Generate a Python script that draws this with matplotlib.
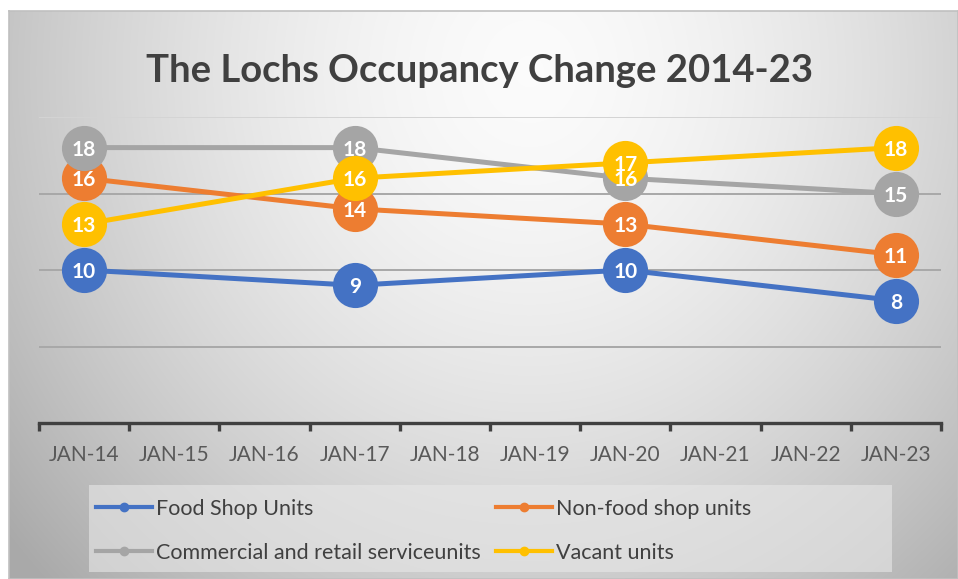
import numpy as np
import matplotlib.pyplot as plt
from matplotlib.lines import Line2D
from matplotlib.patches import Rectangle

plt.rcParams['font.family'] = ['Lato', 'DejaVu Sans']

# data
categories = ['JAN-14', 'JAN-15', 'JAN-16', 'JAN-17', 'JAN-18',
              'JAN-19', 'JAN-20', 'JAN-21', 'JAN-22', 'JAN-23']
data_pos = [0, 3, 6, 9]
food = [10, 9, 10, 8]
non_food = [16, 14, 13, 11]
commercial = [18, 18, 16, 15]
vacant = [13, 16, 17, 18]

series = [
    ('Food Shop Units', food, '#4472C4'),
    ('Non-food shop units', non_food, '#ED7D31'),
    ('Commercial and retail serviceunits', commercial, '#A5A5A5'),
    ('Vacant units', vacant, '#FFC000'),
]

W, H = 958, 579
fig = plt.figure(figsize=(W / 100, H / 100), dpi=100)
fig.patch.set_facecolor('white')

# chart area with radial grey gradient
cx0, cy0, cx1, cy1 = 9, 11, 958, 579
bg = fig.add_axes([cx0 / W, 1 - cy1 / H, (cx1 - cx0) / W, (cy1 - cy0) / H])
gw, gh = cx1 - cx0, cy1 - cy0
xx, yy = np.meshgrid(np.arange(gw), np.arange(gh))
d = np.sqrt(((xx - 520) / 520.0) ** 2 + ((yy - 60) / 560.0) ** 2)
v = 0.985 - 0.21 * np.clip(d, 0, 1.3) ** 1.6
img = np.dstack([v, v, v])
bg.imshow(img, aspect='auto', extent=(0, gw, gh, 0), interpolation='bilinear')
bg.set_xlim(0, gw)
bg.set_ylim(gh, 0)
bg.set_xticks([])
bg.set_yticks([])
for s in bg.spines.values():
    s.set_color('#c0c0c0')
    s.set_linewidth(1.2)

# legend background box
bg.add_patch(Rectangle((89 - cx0, 485 - cy0), 892 - 89, 572 - 485,
                       facecolor='#e8e8e8', alpha=0.6, edgecolor='none'))

# plot area
px0, py0, px1, py1 = 39, 117, 941, 423
ax = fig.add_axes([px0 / W, 1 - py1 / H, (px1 - px0) / W, (py1 - py0) / H])
ax.set_facecolor('none')
ax.set_xlim(-0.5, 9.5)
ax.set_ylim(0, 20)

for y in [5, 10, 15]:
    ax.axhline(y, color='#a8a8a8', lw=1.4, zorder=1)
ax.axhline(20, color='#d4d4d4', lw=1.4, zorder=1)

for name, vals, col in series:
    ax.plot(data_pos, vals, color=col, lw=3.6, marker='o', markersize=32.5,
            markeredgewidth=0, zorder=3, solid_capstyle='round')

for name, vals, col in series:
    for x, y in zip(data_pos, vals):
        ax.text(x, y, str(y), color='white', fontsize=15, fontweight='bold',
                ha='center', va='center_baseline', zorder=5)

for s in ['left', 'right', 'top']:
    ax.spines[s].set_visible(False)
ax.spines['bottom'].set_color('#404040')
ax.spines['bottom'].set_linewidth(2.4)
ax.set_yticks([])
ax.set_xticks(np.arange(-0.5, 10, 1))
ax.set_xticklabels([])
ax.tick_params(axis='x', which='major', length=6, width=2.4, color='#404040')
ax.set_xticks(np.arange(10), minor=True)
ax.set_xticklabels(categories, minor=True)
ax.tick_params(axis='x', which='minor', length=0, pad=16, labelsize=15,
               labelcolor='#595959')

fig.text(480 / W, 1 - 82 / H, 'The Lochs Occupancy Change 2014-23',
         ha='center', va='baseline', fontsize=27.5, fontweight='bold',
         color='#404040')

handles = [Line2D([0], [0], color=c, lw=3, marker='o', markersize=6)
           for _, _, c in series]
labels = [n for n, _, _ in series]
# rows: food / non-food first, commercial / vacant second
order = [0, 2, 1, 3]
leg = fig.legend([handles[i] for i in order], [labels[i] for i in order],
                 ncol=2, loc='upper left',
                 bbox_to_anchor=(96 / W, 1 - 499 / H),
                 frameon=False, fontsize=15.5, handlelength=2.6,
                 handletextpad=0.2, columnspacing=0.7, labelspacing=1.1,
                 borderpad=0, borderaxespad=0)
for t in leg.get_texts():
    t.set_color('#404040')

fig.savefig('out.png', dpi=100)
